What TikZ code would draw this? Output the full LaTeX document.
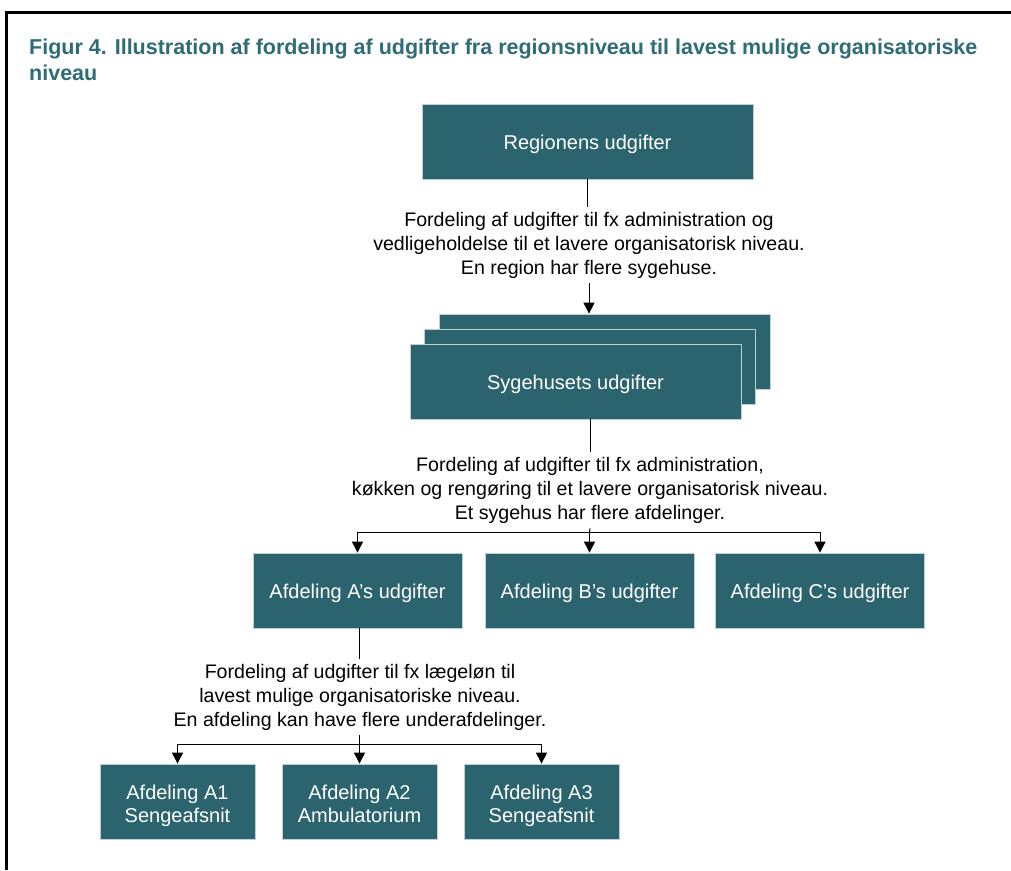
\documentclass[tikz,border=0pt]{standalone}
\usepackage{fontspec}
\setmainfont{Liberation Sans}
\usetikzlibrary{arrows.meta, positioning}

\definecolor{boxteal}{RGB}{43,100,110}
\definecolor{titleteal}{RGB}{46,108,118}
\definecolor{boxedge}{RGB}{190,208,212}

\begin{document}
\begin{tikzpicture}[x=1pt, y=-1pt,
    costbox/.style={fill=boxteal, draw=boxedge, line width=0.8pt, text=white,
        align=center, font=\fontsize{20}{24}\selectfont, inner sep=2pt,
        text height=16pt, text depth=1pt},
    subbox/.style={costbox, font=\fontsize{20}{23}\selectfont,
        text height=41pt, text depth=0pt},
    note/.style={align=center, font=\fontsize{19.6}{24}\selectfont, inner sep=5pt},
    link/.style={line width=1pt},
    arr/.style={line width=1pt, -{Triangle[length=11pt, width=11pt]}}]
    \useasboundingbox (0,0) rectangle (1011,870);
    % frame and title
    \draw[line width=3pt] (6,870) -- (6,12) -- (1011,12);
    \node[anchor=north west, align=left, inner sep=0pt, text=titleteal,
        font=\bfseries\fontsize{21.5}{26}\selectfont] (title) at (29,38.5)
        {Figur 4. Illustration af fordeling af udgifter fra regionsniveau til lavest mulige organisatoriske\\niveau};

    % region level
    \node[costbox, minimum width=331, minimum height=75] (region) at (587.5,141.5) {Regionens udgifter};
    \node[note] (note1) at (589,245) {Fordeling af udgifter til fx administration og\\vedligeholdelse til et lavere organisatorisk niveau.\\En region har flere sygehuse.};

    % hospitals, stacked
    \node[costbox, minimum width=331, minimum height=75] (hosp3) at (604.5,351.5) {};
    \node[costbox, minimum width=331, minimum height=75] (hosp2) at (590,366.5) {};
    \node[costbox, minimum width=331, minimum height=75] (hosp1) at (575.5,381.5) {Sygehusets udgifter};
    \node[note] (note2) at (590,490) {Fordeling af udgifter til fx administration,\\køkken og rengøring til et lavere organisatorisk niveau.\\Et sygehus har flere afdelinger.};

    % departments
    \node[costbox, minimum width=209, minimum height=75] (depA) at (357.5,590.5) {Afdeling A’s udgifter};
    \node[costbox, minimum width=209, minimum height=75] (depB) at (589.5,590.5) {Afdeling B’s udgifter};
    \node[costbox, minimum width=209, minimum height=75] (depC) at (820,590.5) {Afdeling C’s udgifter};
    \node[note] (note3) at (360,697) {Fordeling af udgifter til fx lægeløn til\\lavest mulige organisatoriske niveau.\\En afdeling kan have flere underafdelinger.};

    % sub departments
    \node[subbox, minimum width=155, minimum height=75] (subA1) at (177.5,801.5) {Afdeling A1\\Sengeafsnit};
    \node[subbox, minimum width=155, minimum height=75] (subA2) at (359.5,801.5) {Afdeling A2\\Ambulatorium};
    \node[subbox, minimum width=155, minimum height=75] (subA3) at (541.5,801.5) {Afdeling A3\\Sengeafsnit};

    \coordinate (split2) at (589.5,532);
    \coordinate (split3) at (359.5,744);

    % connectors
    \draw[link] (region.south) -- (region.south |- note1.north);
    \draw[arr] (note1.south) -- (note1.south |- hosp3.north);
    \draw[link] (note2.north |- hosp1.south) -- (note2.north);
    \draw[link] (note2.south) -- (split2);
    \draw[arr] (split2) -| (depA.north);
    \draw[arr] (split2) -- (depB.north);
    \draw[arr] (split2) -| (depC.north);
    \draw[link] (depA.south -| split3) -- (note3.north -| split3);
    \draw[link] (note3.south -| split3) -- (split3);
    \draw[arr] (split3) -| (subA1.north);
    \draw[arr] (split3) -- (subA2.north);
    \draw[arr] (split3) -| (subA3.north);
\end{tikzpicture}
\end{document}
